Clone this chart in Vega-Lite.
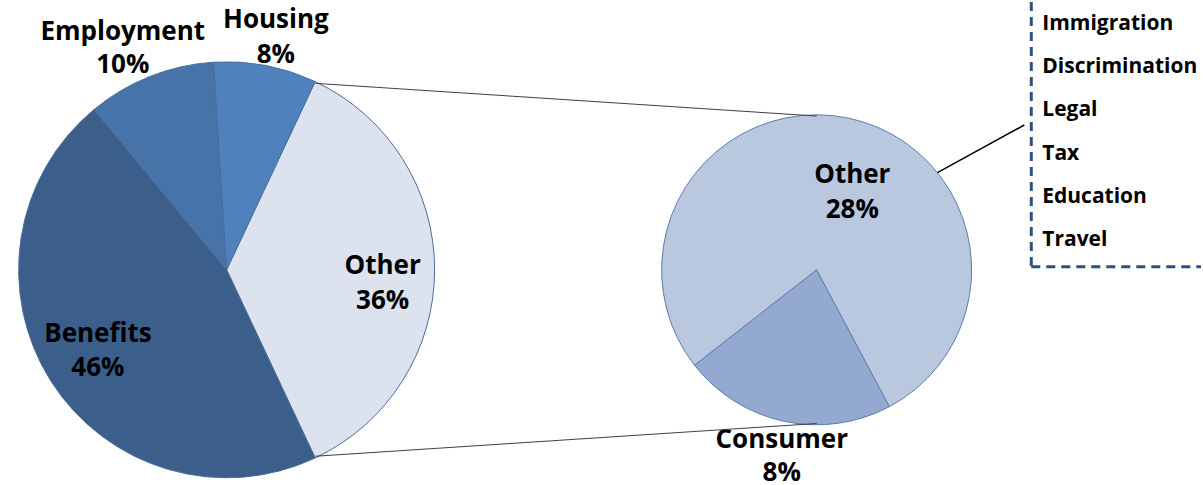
{
  "$schema": "https://vega.github.io/schema/vega-lite/v6.json",
  "width": 1203,
  "height": 485,
  "autosize": {"type": "fit", "contains": "padding"},
  "padding": 0,
  "background": "white",
  "config": {"view": {"stroke": null}, "font": "Open Sans", "text": {"fontSize": 26, "fontWeight": "bold"}},
  "datasets": {
    "main": [
      {"category": "Other", "share": 0.36, "ord": 1},
      {"category": "Benefits", "share": 0.46, "ord": 2},
      {"category": "Employment", "share": 0.10, "ord": 3},
      {"category": "Housing", "share": 0.08, "ord": 4}
    ],
    "breakdown": [
      {"category": "Consumer", "share": 0.08, "ord": 1},
      {"category": "Other", "share": 0.28, "ord": 2}
    ],
    "otherItems": [
      {"item": "Immigration"},
      {"item": "Discrimination"},
      {"item": "Legal"},
      {"item": "Tax"},
      {"item": "Education"},
      {"item": "Travel"}
    ]
  },
  "layer": [
    {
      "data": {"name": "main"},
      "encoding": {
        "x": {"datum": 227, "type": "quantitative", "scale": {"domain": [0, 1203]}, "axis": null},
        "y": {"datum": 268, "type": "quantitative", "scale": {"domain": [0, 485], "reverse": true}, "axis": null},
        "theta": {"field": "share", "type": "quantitative", "stack": true, "scale": {"domain": [0, 1], "range": [0.4398, 6.7230]}},
        "order": {"field": "ord", "type": "quantitative"}
      },
      "layer": [
        {
          "mark": {"type": "arc", "outerRadius": 208, "stroke": "#4A6E9C", "strokeWidth": 1},
          "encoding": {
            "color": {"field": "category", "type": "nominal", "legend": null,
              "scale": {"domain": ["Other", "Benefits", "Employment", "Housing"], "range": ["#DCE2EE", "#3B5E8B", "#4673A8", "#4F81BD"]}}
          }
        },
        {
          "mark": {"type": "text", "radius": 156, "dy": -4, "color": "#000000"},
          "encoding": {"text": {"condition": {"test": "datum.category === 'Other'", "field": "category"}, "value": ""}}
        },
        {
          "mark": {"type": "text", "radius": 156, "dy": 31, "color": "#000000"},
          "encoding": {"text": {"condition": {"test": "datum.category === 'Other'", "field": "share", "type": "quantitative", "format": ".0%"}, "value": ""}}
        },
        {
          "mark": {"type": "text", "radius": 156, "dx": 3, "dy": -19, "color": "#000000"},
          "encoding": {"text": {"condition": {"test": "datum.category === 'Benefits'", "field": "category"}, "value": ""}}
        },
        {
          "mark": {"type": "text", "radius": 156, "dx": 3, "dy": 15, "color": "#000000"},
          "encoding": {"text": {"condition": {"test": "datum.category === 'Benefits'", "field": "share", "type": "quantitative", "format": ".0%"}, "value": ""}}
        },
        {
          "mark": {"type": "text", "radius": 236, "dx": -17, "dy": -18, "color": "#000000"},
          "encoding": {"text": {"condition": {"test": "datum.category === 'Employment'", "field": "category"}, "value": ""}}
        },
        {
          "mark": {"type": "text", "radius": 236, "dx": -17, "dy": 15, "color": "#000000"},
          "encoding": {"text": {"condition": {"test": "datum.category === 'Employment'", "field": "share", "type": "quantitative", "format": ".0%"}, "value": ""}}
        },
        {
          "mark": {"type": "text", "radius": 236, "dx": 5, "dy": -18, "color": "#000000"},
          "encoding": {"text": {"condition": {"test": "datum.category === 'Housing'", "field": "category"}, "value": ""}}
        },
        {
          "mark": {"type": "text", "radius": 236, "dx": 5, "dy": 17, "color": "#000000"},
          "encoding": {"text": {"condition": {"test": "datum.category === 'Housing'", "field": "share", "type": "quantitative", "format": ".0%"}, "value": ""}}
        }
      ]
    },
    {
      "data": {"name": "breakdown"},
      "encoding": {
        "x": {"datum": 818, "type": "quantitative", "scale": {"domain": [0, 1203]}, "axis": null},
        "y": {"datum": 268, "type": "quantitative", "scale": {"domain": [0, 485], "reverse": true}, "axis": null},
        "theta": {"field": "share", "type": "quantitative", "stack": true, "scale": {"domain": [0, 0.36], "range": [2.6529, 8.9361]}},
        "order": {"field": "ord", "type": "quantitative"}
      },
      "layer": [
        {
          "mark": {"type": "arc", "outerRadius": 155, "stroke": "#5A7DB0", "strokeWidth": 1},
          "encoding": {
            "color": {"field": "category", "type": "nominal", "legend": null,
              "scale": {"domain": ["Consumer", "Other"], "range": ["#94A9CF", "#B9C7DF"]}}
          }
        },
        {
          "mark": {"type": "text", "radius": 85, "dx": 18, "dy": -12, "color": "#000000"},
          "encoding": {"text": {"condition": {"test": "datum.category === 'Other'", "field": "category"}, "value": ""}}
        },
        {
          "mark": {"type": "text", "radius": 85, "dx": 18, "dy": 23, "color": "#000000"},
          "encoding": {"text": {"condition": {"test": "datum.category === 'Other'", "field": "share", "type": "quantitative", "format": ".0%"}, "value": ""}}
        },
        {
          "mark": {"type": "text", "radius": 192, "dx": 5, "dy": -18, "color": "#000000"},
          "encoding": {"text": {"condition": {"test": "datum.category === 'Consumer'", "field": "category"}, "value": ""}}
        },
        {
          "mark": {"type": "text", "radius": 192, "dx": 5, "dy": 15, "color": "#000000"},
          "encoding": {"text": {"condition": {"test": "datum.category === 'Consumer'", "field": "share", "type": "quantitative", "format": ".0%"}, "value": ""}}
        }
      ]
    },
    {
      "data": {"values": [{}]},
      "mark": {"type": "rule", "color": "#404040", "strokeWidth": 1},
      "encoding": {
        "x": {"datum": 316, "type": "quantitative", "scale": {"domain": [0, 1203]}, "axis": null},
        "x2": {"datum": 818},
        "y": {"datum": 80, "type": "quantitative", "scale": {"domain": [0, 485], "reverse": true}, "axis": null},
        "y2": {"datum": 113}
      }
    },
    {
      "data": {"values": [{}]},
      "mark": {"type": "rule", "color": "#404040", "strokeWidth": 1},
      "encoding": {
        "x": {"datum": 316, "type": "quantitative", "scale": {"domain": [0, 1203]}, "axis": null},
        "x2": {"datum": 818},
        "y": {"datum": 456, "type": "quantitative", "scale": {"domain": [0, 485], "reverse": true}, "axis": null},
        "y2": {"datum": 423}
      }
    },
    {
      "data": {"values": [{}]},
      "mark": {"type": "rule", "color": "#000000", "strokeWidth": 1.5},
      "encoding": {
        "x": {"datum": 939, "type": "quantitative", "scale": {"domain": [0, 1203]}, "axis": null},
        "x2": {"datum": 1026},
        "y": {"datum": 170, "type": "quantitative", "scale": {"domain": [0, 485], "reverse": true}, "axis": null},
        "y2": {"datum": 122}
      }
    },
    {
      "data": {"values": [{}]},
      "mark": {"type": "rule", "color": "#2A5283", "strokeWidth": 3, "strokeDash": [9, 6]},
      "encoding": {
        "x": {"datum": 1033, "type": "quantitative", "scale": {"domain": [0, 1203]}, "axis": null},
        "y": {"datum": -2, "type": "quantitative", "scale": {"domain": [0, 485], "reverse": true}, "axis": null},
        "y2": {"datum": 265}
      }
    },
    {
      "data": {"values": [{}]},
      "mark": {"type": "rule", "color": "#2A5283", "strokeWidth": 3, "strokeDash": [9, 6]},
      "encoding": {
        "x": {"datum": 1033, "type": "quantitative", "scale": {"domain": [0, 1203]}, "axis": null},
        "x2": {"datum": 1203},
        "y": {"datum": 265, "type": "quantitative", "scale": {"domain": [0, 485], "reverse": true}, "axis": null}
      }
    },
    {
      "data": {"name": "otherItems"},
      "mark": {"type": "text", "align": "left", "baseline": "middle", "fontSize": 21, "fontWeight": "bold", "color": "#000000"},
      "encoding": {
        "x": {"datum": 1044, "type": "quantitative", "scale": {"domain": [0, 1203]}, "axis": null},
        "y": {"field": "item", "type": "nominal", "sort": null, "scale": {"type": "point", "range": [20, 236], "padding": 0}, "axis": null},
        "text": {"field": "item"}
      }
    }
  ],
  "resolve": {"scale": {"theta": "independent", "color": "independent", "y": "independent"}}
}
